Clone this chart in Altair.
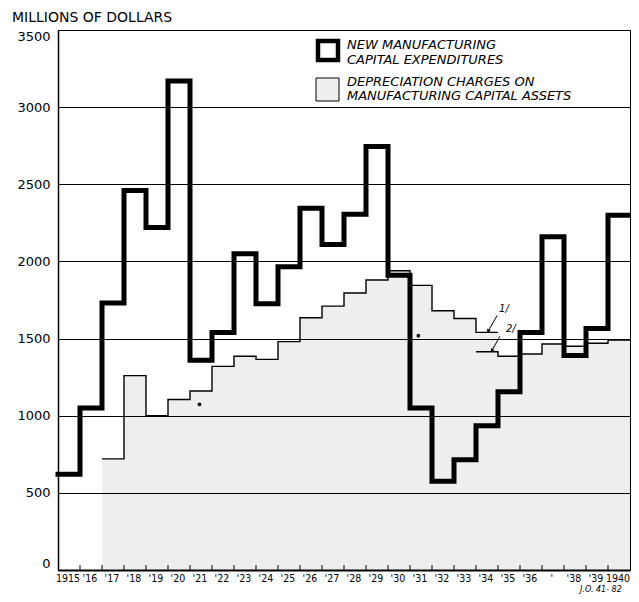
import altair as alt
import pandas as pd

# ---------------- data ----------------
years = list(range(1915, 1941))
capital = [620, 1050, 1730, 2460, 2220, 3170, 1360, 1540, 2050, 1725, 1965, 2345, 2110,
           2305, 2745, 1910, 1050, 575, 715, 935, 1155, 1540, 2160, 1390, 1565, 2300]

dep1_years = list(range(1917, 1935))
dep1 = [720, 1260, 1000, 1105, 1160, 1320, 1385, 1365, 1480, 1635, 1710, 1795, 1880,
        1940, 1845, 1680, 1630, 1540]

dep2_years = list(range(1934, 1941))
dep2 = [1415, 1385, 1400, 1465, 1450, 1470, 1490]

year_labels = ["1915", "'16", "'17", "'18", "'19", "'20", "'21", "'22", "'23", "'24",
               "'25", "'26", "'27", "'28", "'29", "'30", "'31", "'32", "'33", "'34",
               "'35", "'36", "'", "'38", "'39", "1940"]

tick_years = list(range(1916, 1941))

legend_lines = ["NEW MANUFACTURING", "CAPITAL EXPENDITURES",
                "DEPRECIATION CHARGES ON", "MANUFACTURING CAPITAL ASSETS"]

note_labels = ["1/", "2/"]
note_text_x = [1935.05, 1935.36]
note_text_y = [1690, 1565]
note_tail_x = [1934.96, 1935.09]
note_tail_y = [1650, 1515]
note_head_x = [1934.55, 1934.72]
note_head_y = [1548, 1422]

speck_x = [1921.43, 1931.38]
speck_y = [1074, 1519]

W = 572
H = 540

# --------------- helpers ---------------
def step_frame(ys, vs):
    xs = list(ys) + [ys[-1] + 1]
    vv = list(vs) + [vs[-1]]
    return pd.DataFrame({"year": xs, "value": vv})

cap_df = step_frame(years, capital)
d1_df = step_frame(dep1_years, dep1)
d2_df = step_frame(dep2_years, dep2)

xs = alt.Scale(domain=[1915, 1941], nice=False, zero=False)
ys = alt.Scale(domain=[0, 3500], nice=False)
xax = alt.Axis(labels=False, ticks=False, grid=False, domainColor="black",
               domainWidth=2, title=None, zindex=1)
yax = alt.Axis(values=list(range(0, 3501, 500)), format="d", grid=True, gridColor="black",
               gridWidth=1, gridOpacity=1, ticks=False, labelPadding=8, labelFlush=True,
               labelFont="DejaVu Sans", labelFontSize=13, labelColor="black",
               domainColor="black", domainWidth=1.5, title=None, zindex=1)

def X(f):
    return alt.X(f"{f}:Q", scale=xs, axis=xax)

def Y(f):
    return alt.Y(f"{f}:Q", scale=ys, axis=yax)

FILL = "#eeeeee"

area1 = alt.Chart(d1_df).mark_area(interpolate="step-after", color=FILL).encode(x=X("year"), y=Y("value"))
area2 = alt.Chart(d2_df).mark_area(interpolate="step-after", color=FILL).encode(x=X("year"), y=Y("value"))
thin1 = alt.Chart(d1_df).mark_line(interpolate="step-after", color="black", strokeWidth=1.4).encode(x=X("year"), y=Y("value"))
thin2 = alt.Chart(d2_df).mark_line(interpolate="step-after", color="black", strokeWidth=1.4).encode(x=X("year"), y=Y("value"))
thick = alt.Chart(cap_df).mark_line(interpolate="step-after", color="black", strokeWidth=5,
                                    strokeJoin="miter", strokeCap="square").encode(x=X("year"), y=Y("value"))

ticks = alt.Chart(pd.DataFrame({"year": tick_years})).mark_rule(color="black", strokeWidth=1).encode(
    x=X("year"), y=alt.value(H), y2=alt.value(H - 5))

lab_df = pd.DataFrame({"year": years, "label": year_labels})
xlabels = alt.Chart(lab_df).transform_calculate(xc="datum.year + 0.45").mark_text(
    font="DejaVu Sans Condensed, Liberation Sans Narrow, Liberation Sans", fontSize=10.5,
    color="black", baseline="middle", align="center").encode(
    x=X("xc"), y=alt.value(H + 9), text="label:N")

# notes 1/ and 2/
notes_df = pd.DataFrame({"label": note_labels, "tx": note_text_x, "ty": note_text_y,
                         "ax": note_tail_x, "ay": note_tail_y,
                         "hx": note_head_x, "hy": note_head_y})
note_text = alt.Chart(notes_df).mark_text(font="DejaVu Sans", fontSize=10, fontStyle="italic",
                                          color="black", align="left", baseline="middle").encode(
    x=X("tx"), y=Y("ty"), text="label:N")
note_rule = alt.Chart(notes_df).mark_rule(color="black", strokeWidth=1).encode(
    x=X("ax"), y=Y("ay"), x2="hx:Q", y2="hy:Q")
note_head = alt.Chart(notes_df).mark_point(shape="triangle-up", filled=True, color="black",
                                           size=18, angle=212, opacity=1).encode(x=X("hx"), y=Y("hy"))

specks = alt.Chart(pd.DataFrame({"x": speck_x, "y": speck_y})).mark_point(
    filled=True, color="black", size=14, opacity=1).encode(x=X("x"), y=Y("y"))

# legend
one = pd.DataFrame({"k": [0]})
leg_sym1 = alt.Chart(one).mark_rect(fill="white", stroke="black", strokeWidth=4.5).encode(
    x=alt.value(260), x2=alt.value(280), y=alt.value(11), y2=alt.value(30))
leg_sym2 = alt.Chart(one).mark_rect(fill=FILL, stroke="black", strokeWidth=1).encode(
    x=alt.value(258), x2=alt.value(281), y=alt.value(48), y2=alt.value(71))

leg_texts = []
for txt, yy in zip(legend_lines, [15, 30, 52, 66]):
    leg_texts.append(
        alt.Chart(pd.DataFrame({"t": [txt]})).mark_text(
            font="DejaVu Sans", fontSize=13, fontStyle="italic", color="black",
            align="left", baseline="middle").encode(
            x=alt.value(289), y=alt.value(yy), text="t:N"))

title = alt.Chart(pd.DataFrame({"t": ["MILLIONS OF DOLLARS"]})).mark_text(
    font="DejaVu Sans", fontSize=14, color="black", align="left", baseline="middle").encode(
    x=alt.value(-46), y=alt.value(-12.5), text="t:N")

code = alt.Chart(pd.DataFrame({"t": ["J.O. 41- 82"]})).mark_text(
    font="DejaVu Sans", fontSize=8, fontStyle="italic", color="black", align="left",
    baseline="top").encode(x=alt.value(522), y=alt.value(H + 16), text="t:N")

chart = alt.layer(
    area1, area2, thin1, thin2, thick, ticks, xlabels,
    note_rule, note_head, note_text, specks,
    leg_sym1, leg_sym2, *leg_texts, title, code
).properties(
    width=W, height=H,
    autosize=alt.AutoSizeParams(type="none"),
    padding={"left": 50, "top": 22, "right": 1, "bottom": 24},
    background="white",
).configure_view(stroke="black", strokeWidth=1)

chart.save("out.html", embed_options={"renderer": "svg", "actions": False})
